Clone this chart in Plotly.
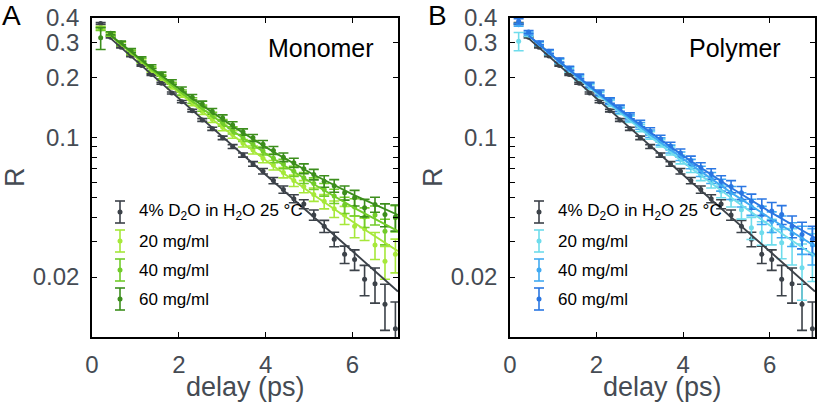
import plotly.graph_objects as go

# ---------------- data ----------------
delay = [0.20, 0.43, 0.67, 0.90, 1.14, 1.37, 1.60, 1.84, 2.07, 2.31, 2.54, 2.77, 3.01, 3.24, 3.48,
         3.71, 3.94, 4.18, 4.41, 4.65, 4.88, 5.11, 5.35, 5.58, 5.82, 6.05, 6.28, 6.52, 6.75, 6.99]

water_R = [0.375, 0.320, 0.285, 0.258, 0.231, 0.208, 0.188, 0.168, 0.152, 0.137, 0.123, 0.111, 0.100, 0.0905, 0.082,
           0.074, 0.068, 0.061, 0.055, 0.0495, 0.0465, 0.041, 0.036, 0.031, 0.026, 0.0245, 0.0195, 0.0185, 0.0146, 0.011]
water_err = [0.004, 0.002, 0.002, 0.002, 0.002, 0.002, 0.002, 0.002, 0.002, 0.002, 0.002, 0.002, 0.002, 0.002, 0.002,
             0.002, 0.0022, 0.0022, 0.0023, 0.0023, 0.0024, 0.0024, 0.0025, 0.0026, 0.0026, 0.0029, 0.0034, 0.0037, 0.0038, 0.004]

mono20_R = [0.356, 0.330, 0.296, 0.268, 0.243, 0.219, 0.200, 0.181, 0.165, 0.150, 0.136, 0.124, 0.113, 0.104, 0.094,
            0.087, 0.079, 0.073, 0.067, 0.061, 0.057, 0.052, 0.048, 0.044, 0.041, 0.036, 0.035, 0.029, 0.024, 0.026]
mono40_R = [0.352, 0.331, 0.298, 0.270, 0.245, 0.223, 0.203, 0.185, 0.169, 0.154, 0.141, 0.130, 0.119, 0.109, 0.100,
            0.093, 0.086, 0.079, 0.074, 0.068, 0.063, 0.059, 0.055, 0.051, 0.046, 0.045, 0.040, 0.041, 0.034, 0.0397]
mono60_R = [0.318, 0.335, 0.300, 0.275, 0.249, 0.228, 0.209, 0.191, 0.175, 0.160, 0.148, 0.136, 0.126, 0.116, 0.107,
            0.100, 0.093, 0.0865, 0.080, 0.075, 0.070, 0.0655, 0.0605, 0.0575, 0.053, 0.050, 0.0446, 0.0463, 0.0412, 0.040]

poly20_R = [0.306, 0.329, 0.296, 0.268, 0.242, 0.219, 0.199, 0.180, 0.164, 0.149, 0.136, 0.124, 0.112, 0.103, 0.094,
            0.086, 0.078, 0.071, 0.065, 0.060, 0.054, 0.049, 0.0436, 0.0354, 0.0334, 0.034, 0.0297, 0.029, 0.0223, 0.026]
poly40_R = [0.370, 0.334, 0.298, 0.270, 0.244, 0.222, 0.202, 0.183, 0.167, 0.152, 0.138, 0.126, 0.115, 0.105, 0.096,
            0.088, 0.081, 0.074, 0.068, 0.063, 0.058, 0.053, 0.049, 0.045, 0.041, 0.038, 0.036, 0.033, 0.031, 0.029]
poly60_R = [0.385, 0.340, 0.300, 0.272, 0.246, 0.224, 0.204, 0.185, 0.169, 0.154, 0.141, 0.129, 0.118, 0.108, 0.099,
            0.091, 0.084, 0.077, 0.071, 0.066, 0.0605, 0.057, 0.053, 0.048, 0.045, 0.0429, 0.0412, 0.036, 0.0327, 0.031]

err_20 = [0.007, 0.006, 0.006, 0.006, 0.006, 0.005, 0.005, 0.005, 0.005, 0.005, 0.005, 0.0045, 0.0045, 0.0045, 0.004,
          0.004, 0.004, 0.004, 0.004, 0.004, 0.004, 0.004, 0.004, 0.0042, 0.0043, 0.0045, 0.0045, 0.0045, 0.0045, 0.005]
err_40 = [0.006, 0.006, 0.006, 0.006, 0.006, 0.005, 0.005, 0.005, 0.005, 0.005, 0.005, 0.0045, 0.0045, 0.0045, 0.004,
          0.004, 0.004, 0.004, 0.004, 0.004, 0.004, 0.004, 0.004, 0.0042, 0.0043, 0.0045, 0.0045, 0.0045, 0.005, 0.006]
err_60 = [0.040, 0.006, 0.006, 0.006, 0.006, 0.005, 0.005, 0.005, 0.005, 0.005, 0.005, 0.0045, 0.0045, 0.0045, 0.004,
          0.004, 0.004, 0.004, 0.004, 0.004, 0.004, 0.004, 0.004, 0.0042, 0.0043, 0.0045, 0.0045, 0.004, 0.0054, 0.006]
err_p20 = [0.032, 0.006, 0.006, 0.006, 0.006, 0.005, 0.005, 0.005, 0.005, 0.005, 0.005, 0.0045, 0.0045, 0.0045, 0.004,
           0.004, 0.004, 0.004, 0.004, 0.004, 0.004, 0.004, 0.0045, 0.0045, 0.0045, 0.005, 0.005, 0.006, 0.007, 0.007]
err_p60 = [0.012, 0.006, 0.006, 0.006, 0.006, 0.005, 0.005, 0.005, 0.005, 0.005, 0.005, 0.0045, 0.0045, 0.0045, 0.004,
           0.004, 0.004, 0.004, 0.004, 0.004, 0.004, 0.004, 0.004, 0.0042, 0.0043, 0.0045, 0.0045, 0.0045, 0.005, 0.005]

fit_delay = [0.43, 1.37, 2.31, 3.24, 4.18, 5.11, 6.05, 7.05]
water_fit = [0.316, 0.209, 0.138, 0.0913, 0.0602, 0.0399, 0.0264, 0.0169]
mono20_fit = [0.3264, 0.2185, 0.1486, 0.1030, 0.0723, 0.0517, 0.0374, 0.0270]
mono40_fit = [0.3264, 0.2207, 0.1527, 0.1085, 0.0786, 0.0585, 0.0444, 0.0340]
mono60_fit = [0.328, 0.2242, 0.1577, 0.1144, 0.0851, 0.0653, 0.0514, 0.0410]
poly20_fit = [0.3265, 0.2176, 0.1471, 0.1014, 0.0705, 0.0500, 0.0358, 0.0255]
poly40_fit = [0.3265, 0.2187, 0.1492, 0.1041, 0.0736, 0.0531, 0.0390, 0.0286]
poly60_fit = [0.3264, 0.2201, 0.1514, 0.1068, 0.0765, 0.0562, 0.0420, 0.0315]

legend_labels = ["4% D<sub>2</sub>O in H<sub>2</sub>O 25 °C", "20 mg/ml", "40 mg/ml", "60 mg/ml"]
y_tickvals = [0.02, 0.1, 0.2, 0.3, 0.4]
y_ticktext = ["0.02", "0.1", "0.2", "0.3", "0.4"]
y_minor_tickvals = [0.03, 0.04, 0.05, 0.06, 0.07, 0.08, 0.09]
x_tickvals = [0, 2, 4, 6]

# ---------------- style ----------------
C_WATER = "#3c4249"
GREENS = ["#a6e83a", "#72cc2a", "#3c8e1c"]
BLUES = ["#6edcec", "#40aaf2", "#2a76e2"]
FONT = "Liberation Sans, Arial, sans-serif"
GRAY_TXT = "#454b53"
W, H = 821, 408

fig = go.Figure()

panels = [
    dict(xa="x", ya="y", colors=GREENS,
         series=[(mono20_R, err_20, mono20_fit), (mono40_R, err_40, mono40_fit), (mono60_R, err_60, mono60_fit)]),
    dict(xa="x2", ya="y2", colors=BLUES,
         series=[(poly20_R, err_p20, poly20_fit), (poly40_R, err_40, poly40_fit), (poly60_R, err_p60, poly60_fit)]),
]

for p in panels:
    allser = [(water_R, water_err, water_fit, C_WATER)] + [
        (s[0], s[1], s[2], c) for s, c in zip(p["series"], p["colors"])]
    for vals, err, fit, col in allser:
        fig.add_trace(go.Scatter(
            x=delay, y=vals, mode="markers", xaxis=p["xa"], yaxis=p["ya"],
            marker=dict(color=col, size=5),
            error_y=dict(type="data", array=err, color=col, thickness=1.6, width=5),
            showlegend=False, hoverinfo="skip"))
    for vals, err, fit, col in allser:
        fig.add_trace(go.Scatter(
            x=fit_delay, y=fit, mode="lines", xaxis=p["xa"], yaxis=p["ya"],
            line=dict(color=col, width=1.9), showlegend=False, hoverinfo="skip"))


def px(x):
    return x / W


def py(y):
    return 1 - y / H


xdoms = [(px(92), px(398)), (px(510), px(815))]
ydom = (py(337), py(18))

axis_common = dict(showline=True, linecolor="black", linewidth=1.6, mirror="ticks",
                   ticks="inside", ticklen=5, tickwidth=1.3, tickcolor="black",
                   showgrid=False, zeroline=False, automargin=False,
                   tickfont=dict(family=FONT, size=24, color=GRAY_TXT))

layout = dict(
    width=W, height=H, margin=dict(l=0, r=0, t=0, b=0, autoexpand=False),
    paper_bgcolor="white", plot_bgcolor="white", showlegend=False,
    font=dict(family=FONT),
)
for i, (xd, suffix) in enumerate(zip(xdoms, ["", "2"])):
    layout["xaxis" + suffix] = dict(axis_common, domain=list(xd), range=[0, 7.05],
                                    tickvals=x_tickvals, anchor="y" + suffix,
                                    ticklabelstandoff=5)
    layout["yaxis" + suffix] = dict(axis_common, domain=list(ydom), type="log",
                                    range=[-2, -0.398], tickvals=y_tickvals, ticktext=y_ticktext,
                                    minor=dict(tickvals=y_minor_tickvals, ticks="inside", ticklen=5,
                                               tickwidth=1.3, tickcolor="black", showgrid=False),
                                    anchor="x" + suffix, ticklabelstandoff=6)
fig.update_layout(**layout)

ann = []
shapes = []
for letter, lx, name, nx, rx, dx in [("A", 11, "Monomer", 321, 15, 245),
                                     ("B", 438, "Polymer", 735, 433, 662)]:
    ann.append(dict(text=letter, x=px(lx), y=py(16), xref="paper", yref="paper", showarrow=False,
                    font=dict(family=FONT, size=28, color="black"), xanchor="center", yanchor="middle"))
    ann.append(dict(text=name, x=px(nx), y=py(48), xref="paper", yref="paper", showarrow=False,
                    font=dict(family=FONT, size=25, color="black"), xanchor="center", yanchor="middle"))
    ann.append(dict(text="R", x=px(rx), y=py(177), xref="paper", yref="paper", showarrow=False,
                    textangle=-90, font=dict(family=FONT, size=27, color=GRAY_TXT),
                    xanchor="center", yanchor="middle"))
    ann.append(dict(text="delay (ps)", x=px(dx), y=py(387), xref="paper", yref="paper", showarrow=False,
                    font=dict(family=FONT, size=27, color=GRAY_TXT), xanchor="center", yanchor="middle"))

row_y = [212, 241, 270, 299]
for sym_x, cols in [(120, [C_WATER] + GREENS), (539, [C_WATER] + BLUES)]:
    for ry, col, lab in zip(row_y, cols, legend_labels):
        shapes.append(dict(type="line", xref="paper", yref="paper", x0=px(sym_x), x1=px(sym_x),
                           y0=py(ry - 11), y1=py(ry + 11), line=dict(color=col, width=1.6)))
        for cy in (ry - 11, ry + 11):
            shapes.append(dict(type="line", xref="paper", yref="paper", x0=px(sym_x - 5), x1=px(sym_x + 5),
                               y0=py(cy), y1=py(cy), line=dict(color=col, width=1.6)))
        shapes.append(dict(type="circle", xref="paper", yref="paper", x0=px(sym_x - 2.5), x1=px(sym_x + 2.5),
                           y0=py(ry + 2.5), y1=py(ry - 2.5), fillcolor=col, line=dict(color=col, width=0)))
        ann.append(dict(text=lab, x=px(sym_x + 17), y=py(ry), xref="paper", yref="paper", showarrow=False,
                        font=dict(family=FONT, size=17, color="black"), xanchor="left", yanchor="middle"))

fig.update_layout(annotations=ann, shapes=shapes)
fig.write_html("out.html", config={"displayModeBar": False},
               post_script="document.body.style.margin='0';document.body.style.padding='0';")
